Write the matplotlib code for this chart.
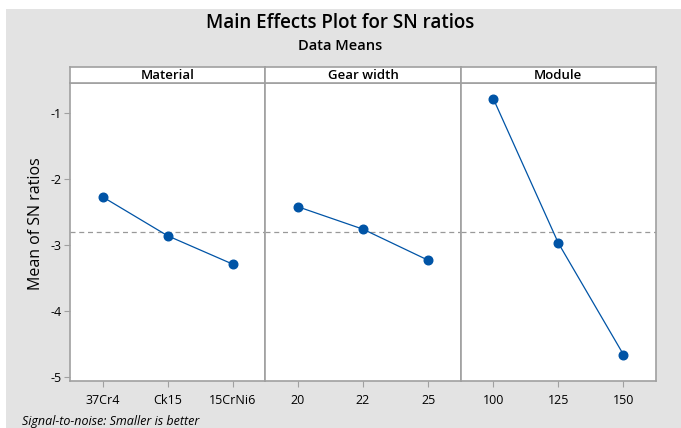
import matplotlib.pyplot as plt
from matplotlib.patches import Rectangle

# factor names, level labels and mean SN ratios
factors = ['Material', 'Gear width', 'Module']
levels = [['37Cr4', 'Ck15', '15CrNi6'], ['20', '22', '25'], ['100', '125', '150']]
sn_means = [[-2.27, -2.86, -3.29], [-2.42, -2.76, -3.23], [-0.78, -2.97, -4.66]]
grand_mean = -2.81
yticks = [-1, -2, -3, -4, -5]

plt.rcParams['font.family'] = ['Open Sans', 'DejaVu Sans']

W, H = 681, 428
fig = plt.figure(figsize=(W / 100, H / 100), dpi=100)
fig.patch.set_facecolor('white')
fig.patches.append(Rectangle((6 / W, 0), 1 - 6 / W, 1 - 9 / H, transform=fig.transFigure,
                             facecolor='#e3e3e3', edgecolor='none', zorder=-10))

frame = '#a0a0a0'
blue = '#0054a6'
left, right, top, bottom, strip_top = 70, 656, 83, 381, 67
pw = (right - left) / 3

for i in range(3):
    x0 = left + i * pw
    ax = fig.add_axes([x0 / W, 1 - bottom / H, pw / W, (bottom - top) / H])
    ax.plot(range(3), sn_means[i], color=blue, lw=0.9, marker='o', ms=6.2, zorder=3)
    ax.axhline(grand_mean, color='#999999', lw=0.9, ls=(0, (4, 3)), zorder=1)
    ax.set_xlim(-0.5, 2.5)
    ax.set_ylim(-5.06, -0.545)
    ax.set_xticks(range(3))
    ax.set_xticklabels(levels[i], fontsize=9)
    for s in ax.spines.values():
        s.set_color(frame)
        s.set_linewidth(1.2)
    ax.tick_params(axis='x', colors=frame, labelcolor='black', length=4, width=0.8, pad=5)
    if i == 0:
        ax.set_yticks(yticks)
        ax.set_yticklabels([str(v) for v in yticks], fontsize=9)
        ax.tick_params(axis='y', colors=frame, labelcolor='black', length=4, width=0.8, pad=2)
    else:
        ax.set_yticks([])

    sax = fig.add_axes([x0 / W, 1 - top / H, pw / W, (top - strip_top) / H])
    sax.set_xticks([])
    sax.set_yticks([])
    for s in sax.spines.values():
        s.set_color(frame)
        s.set_linewidth(1.2)
    sax.text(0.5, 0.45, factors[i], ha='center', va='center', fontsize=9.5, fontweight='semibold',
             transform=sax.transAxes)

fig.text(0.5, 1 - 23 / H, 'Main Effects Plot for SN ratios', ha='center', va='center',
         fontsize=13.5, fontweight='semibold')
fig.text(0.5, 1 - 46 / H, 'Data Means', ha='center', va='center', fontsize=10.5,
         fontweight='semibold')
fig.text(36 / W, 1 - 224 / H, 'Mean of SN ratios', rotation=90, ha='center', va='center',
         fontsize=11.5, fontweight='medium')
fig.text(22 / W, 1 - 421 / H, 'Signal-to-noise: Smaller is better', ha='left', va='center',
         fontsize=9, style='italic')

fig.savefig('out.png', dpi=100)
